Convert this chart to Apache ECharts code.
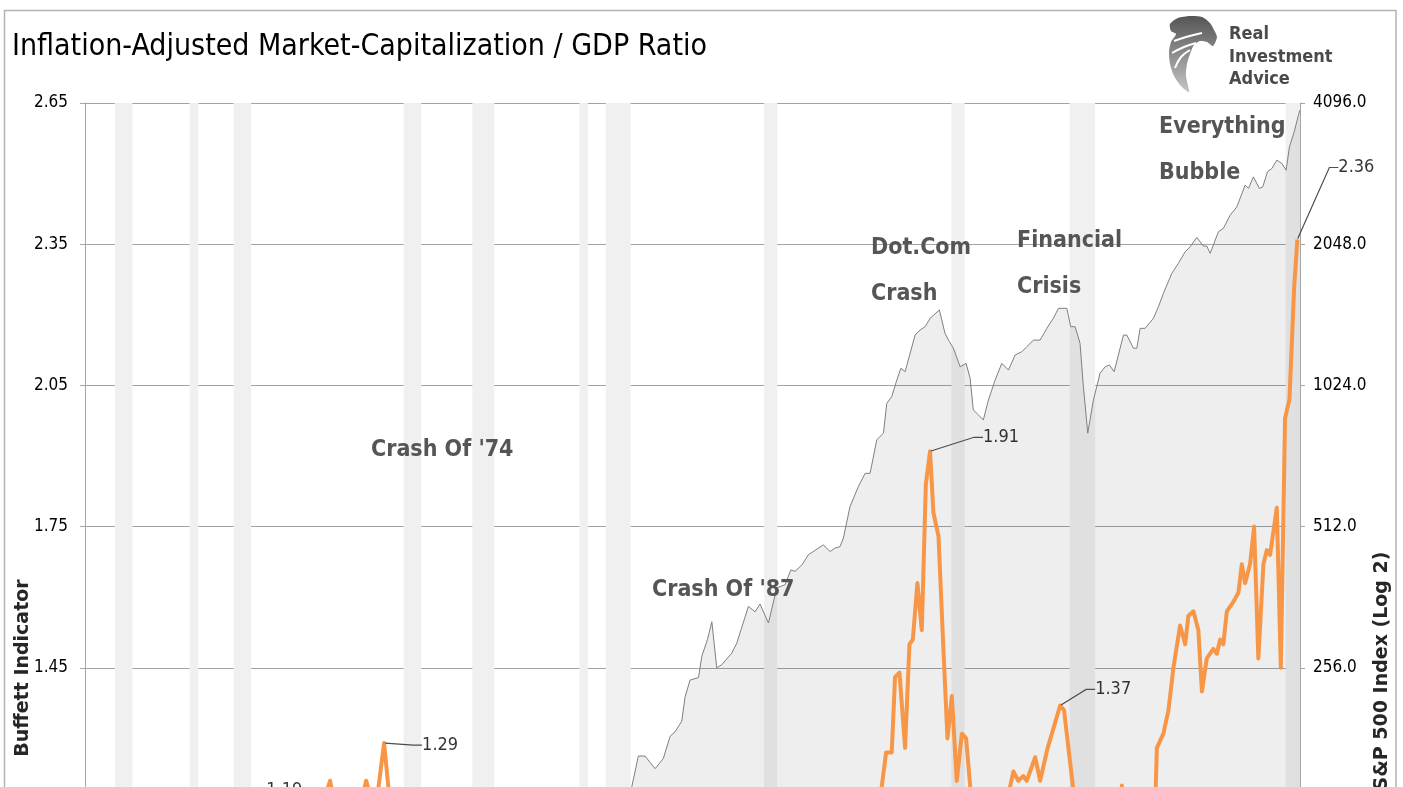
<!DOCTYPE html>
<html>
<head>
<meta charset="utf-8">
<title>Inflation-Adjusted Market-Capitalization / GDP Ratio</title>
<script src="https://cdn.jsdelivr.net/npm/echarts@6.0.0/dist/echarts.min.js"></script>
<style>
  html, body { margin: 0; padding: 0; background: #fff; overflow: hidden; height: 787px; }
  /* the original picture is cut off at the bottom, so the chart runs past the window */
  #frame { width: 1403px; height: 787px; overflow: hidden; }
  #chart { width: 1403px; height: 860px; }
</style>
</head>
<body>
<div id="frame"><div id="chart"></div></div>
<script>
// S&P 500 index (right axis, log 2)
var spYears = [1980.0, 1981.0, 1982.0, 1982.5, 1982.90, 1983.27, 1983.65, 1984.22, 1984.69, 1985.08,
  1985.36, 1985.74, 1985.93, 1986.21, 1986.69, 1986.88, 1987.20, 1987.45, 1987.73, 1988.02,
  1988.58, 1988.87, 1989.53, 1989.91, 1990.19, 1990.67, 1991.14, 1991.62, 1991.94, 1992.18,
  1992.57, 1992.94, 1993.79, 1994.18, 1994.46, 1994.74, 1994.93, 1995.31, 1995.78, 1996.17,
  1996.45, 1996.83, 1997.21, 1997.40, 1997.68, 1997.97, 1998.20, 1998.44, 1999.01, 1999.29,
  1999.58, 1999.86, 2000.39, 2000.71, 2000.96, 2001.19, 2001.57, 2001.91, 2002.14, 2002.32,
  2002.61, 2002.89, 2003.18, 2003.56, 2003.94, 2004.32, 2004.70, 2005.08, 2005.36, 2005.74,
  2006.12, 2006.50, 2006.87, 2007.16, 2007.64, 2007.86, 2008.11, 2008.39, 2008.58, 2008.83,
  2009.15, 2009.53, 2009.82, 2010.06, 2010.33, 2010.86, 2011.05, 2011.43, 2011.62, 2011.81,
  2012.09, 2012.56, 2012.85, 2013.13, 2013.61, 2013.98, 2014.37, 2014.65, 2015.03, 2015.41,
  2015.60, 2015.79, 2016.26, 2016.54, 2016.93, 2017.31, 2017.78, 2017.97, 2018.25, 2018.59,
  2018.78, 2019.05, 2019.30, 2019.58, 2019.87, 2020.11, 2020.30, 2020.57, 2020.81, 2020.90];
var spValues = [110, 130, 115, 108, 143, 166, 166, 156, 164, 183,
  187, 197, 222, 241, 244, 271, 294, 321, 256, 260,
  275, 289, 346, 337, 350, 319, 379, 385, 414, 411,
  424, 446, 468, 453, 461, 464, 484, 565, 623, 665,
  665, 784, 810, 938, 969, 1051, 1114, 1095, 1311, 1344,
  1366, 1423, 1483, 1322, 1269, 1229, 1122, 1141, 1060, 908,
  886, 864, 953, 1051, 1141, 1104, 1189, 1208, 1238, 1279,
  1279, 1355, 1423, 1495, 1495, 1366, 1366, 1259, 1018, 810,
  953, 1087, 1122, 1132, 1095, 1311, 1311, 1229, 1229, 1355,
  1355, 1423, 1507, 1609, 1775, 1864, 1973, 2022, 2117, 2029,
  2029, 1958, 2177, 2213, 2362, 2461, 2737, 2693, 2850, 2693,
  2713, 2921, 2970, 3094, 3044, 2945, 3302, 3554, 3858, 3955];

// Buffett indicator, inflation-adjusted market cap / GDP (left axis)
var biYears = [1951.8, 1953.5, 1955.5, 1957.5, 1958.3, 1959.3, 1959.95, 1960.6, 1961.9, 1962.5,
  1963.6, 1964.6, 1965.3, 1965.74, 1966.2, 1966.75, 1967.3, 1967.79, 1968.3, 1968.81,
  1969.2, 1969.8, 1970.4, 1971.5, 1972.9, 1973.6, 1974.7, 1976.0, 1978.0, 1980.0,
  1982.5, 1983.5, 1985.0, 1987.45, 1988.0, 1990.0, 1991.0, 1993.0, 1995.0, 1996.0,
  1996.8, 1997.12, 1997.36, 1997.68, 1997.87, 1998.12, 1998.44, 1998.69, 1998.88, 1999.14,
  1999.39, 1999.62, 1999.86, 2000.05, 2000.34, 2000.62, 2000.85, 2001.10, 2001.38, 2001.67,
  2001.91, 2002.14, 2002.4, 2002.8, 2003.3, 2003.8, 2004.2, 2004.60, 2004.88, 2005.17,
  2005.36, 2005.84, 2006.12, 2006.55, 2007.26, 2007.48, 2007.98, 2008.4, 2008.9, 2009.2,
  2009.6, 2010.0, 2010.4, 2010.77, 2011.2, 2011.6, 2012.0, 2012.4, 2012.66, 2012.76,
  2013.13, 2013.42, 2013.70, 2014.08, 2014.37, 2014.55, 2014.84, 2015.12, 2015.32, 2015.60,
  2015.97, 2016.17, 2016.36, 2016.54, 2016.74, 2017.11, 2017.40, 2017.59, 2017.78, 2018.06,
  2018.29, 2018.53, 2018.82, 2019.01, 2019.20, 2019.58, 2019.81, 2020.05, 2020.30, 2020.57,
  2020.75];
var biValues = [0.85, 0.80, 0.98, 0.95, 0.92, 1.12, 1.19, 1.02, 1.16, 0.95,
  1.08, 1.14, 1.16, 1.21, 1.12, 1.00, 1.13, 1.21, 1.14, 1.29,
  1.14, 1.02, 0.85, 0.97, 1.02, 0.88, 0.55, 0.64, 0.52, 0.50,
  0.45, 0.58, 0.56, 0.72, 0.60, 0.72, 0.76, 0.86, 0.90, 1.05,
  1.13, 1.20, 1.27, 1.27, 1.43, 1.44, 1.28, 1.50, 1.51, 1.63,
  1.53, 1.84, 1.91, 1.78, 1.73, 1.49, 1.30, 1.39, 1.21, 1.31,
  1.30, 1.20, 1.03, 0.95, 1.02, 1.12, 1.16, 1.23, 1.21, 1.22,
  1.21, 1.26, 1.21, 1.28, 1.37, 1.36, 1.20, 1.05, 0.80, 0.72,
  0.90, 1.00, 0.95, 1.20, 1.05, 0.95, 1.05, 1.10, 1.15, 1.28,
  1.31, 1.36, 1.45, 1.54, 1.50, 1.56, 1.57, 1.53, 1.40, 1.47,
  1.49, 1.48, 1.51, 1.50, 1.57, 1.59, 1.61, 1.67, 1.63, 1.67,
  1.75, 1.47, 1.67, 1.70, 1.69, 1.79, 1.45, 1.98, 2.02, 2.26,
  2.36];

// points of the orange line that carry a value label
var labelYears = [1959.95, 1968.81, 1999.86, 2007.26, 2020.75];

// recessions (grey bands)
var recStart = [1953.5, 1957.75, 1960.25, 1969.92, 1973.83, 1979.92, 1981.42, 1990.42, 2001.08, 2007.8, 2020.08];
var recEnd   = [1954.5, 1958.25, 1961.25, 1970.92, 1975.08, 1980.4, 1982.83, 1991.17, 2001.83, 2009.25, 2020.9];

// tick labels
var leftTicks = [1.15, 1.45, 1.75, 2.05, 2.35, 2.65];
var rightTicks = [128, 256, 512, 1024, 2048, 4096];

var NARROW = "'Liberation Sans Narrow', 'DejaVu Sans Condensed', sans-serif";

var spData = spYears.map(function (y, i) { return [y, spValues[i]]; });
var biData = biYears.map(function (y, i) { return [y, biValues[i]]; });
var peakData = labelYears.map(function (y) {
  var i = biYears.indexOf(y);
  return [biYears[i], biValues[i]];
});
var bands = recStart.map(function (s, i) { return [{ xAxis: s }, { xAxis: recEnd[i] }]; });

// where each value label sits, relative to its point
var labelShift = [
  { dx: 37, dy: 0 },
  { dx: 37, dy: 2 },
  { dx: 52, dy: -14 },
  { dx: 34, dy: -16 },
  { dx: 40, dy: -72 }
];

function note(x, y, text) {
  return {
    type: 'text', x: x, y: y, z: 20, silent: true,
    style: { text: text, fill: '#555555', font: 'bold 23px ' + NARROW, lineHeight: 46,
      verticalAlign: 'middle', textVerticalAlign: 'middle' }
  };
}

var chart = echarts.init(document.getElementById('chart'));

var option = {
  animation: false,
  backgroundColor: '#fff',
  title: {
    text: 'Inflation-Adjusted Market-Capitalization / GDP Ratio',
    left: 7,
    top: 27,
    textStyle: { fontFamily: NARROW, fontSize: 30, fontWeight: 'normal', color: '#000' }
  },
  grid: { left: 85, right: 103, top: 103, bottom: 51 },
  xAxis: {
    type: 'value',
    min: 1951.8,
    max: 2020.9,
    show: false
  },
  yAxis: [{
    type: 'value',
    min: leftTicks[0],
    max: leftTicks[leftTicks.length - 1],
    interval: 0.3,
    axisLine: { show: true, lineStyle: { color: '#a6a6a6', width: 1 } },
    axisTick: { show: true, length: 5, lineStyle: { color: '#a6a6a6' } },
    axisLabel: {
      margin: 17,
      color: '#000',
      fontFamily: NARROW,
      fontSize: 17,
      formatter: function (v) { return v.toFixed(2); }
    },
    splitLine: { show: true, lineStyle: { color: '#a3a3a3', width: 1.2 } }
  }, {
    type: 'log',
    logBase: 2,
    min: rightTicks[0],
    max: rightTicks[rightTicks.length - 1],
    axisLine: { show: true, lineStyle: { color: '#a6a6a6', width: 1 } },
    axisTick: { show: true, length: 5, lineStyle: { color: '#a6a6a6' } },
    axisLabel: {
      margin: 13,
      color: '#000',
      fontFamily: NARROW,
      fontSize: 17,
      formatter: function (v) { return Math.round(v).toFixed(1); }
    },
    splitLine: { show: false }
  }],
  series: [{
    name: 'S&P 500 Index',
    type: 'line',
    yAxisIndex: 1,
    data: spData,
    showSymbol: false,
    silent: true,
    z: 2,
    lineStyle: { color: '#7f7f7f', width: 1 },
    areaStyle: { color: 'rgba(0,0,0,0.095)', origin: 'start' },
    markArea: {
      silent: true,
      itemStyle: { color: '#f0f0f0' },
      data: bands
    }
  }, {
    name: 'Buffett Indicator',
    type: 'line',
    yAxisIndex: 0,
    data: biData,
    showSymbol: false,
    silent: true,
    z: 3,
    lineStyle: { color: '#f79646', width: 4, join: 'round' }
  }, {
    name: 'labels',
    type: 'scatter',
    yAxisIndex: 0,
    data: peakData,
    symbolSize: 2,
    silent: true,
    z: 4,
    itemStyle: { color: 'rgba(0,0,0,0)' },
    label: {
      show: true,
      position: 'right',
      distance: 0,
      color: '#000',
      fontFamily: NARROW,
      fontSize: 18,
      formatter: function (p) { return p.value[1].toFixed(2); }
    },
    labelLine: { show: true, length2: 9, lineStyle: { color: '#4d4d4d', width: 1.2 } },
    labelLayout: function (p) { return labelShift[p.dataIndex]; }
  }],
  graphic: {
    elements: [
      // outer frame
      { type: 'rect', silent: true, z: -1,
        shape: { x: 4.5, y: 10.5, width: 1391.5, height: 820 },
        style: { fill: 'none', stroke: '#b4b4b4', lineWidth: 1.5 } },
      // axis titles
      { type: 'text', x: 23, y: 668, rotation: Math.PI / 2, silent: true, z: 20,
        style: { text: 'Buffett Indicator', fill: '#262626', font: 'bold 19px "DejaVu Sans"',
          align: 'center', verticalAlign: 'middle', textAlign: 'center', textVerticalAlign: 'middle' } },
      { type: 'text', x: 1382, y: 671, rotation: Math.PI / 2, silent: true, z: 20,
        style: { text: 'S&P 500 Index (Log 2)', fill: '#262626', font: 'bold 19px "DejaVu Sans"',
          align: 'center', verticalAlign: 'middle', textAlign: 'center', textVerticalAlign: 'middle' } },
      // annotations
      note(1159, 150, 'Everything\nBubble'),
      note(871, 271, 'Dot.Com\nCrash'),
      note(1017, 264, 'Financial\nCrisis'),
      note(371, 450, "Crash Of '74"),
      note(652, 590, "Crash Of '87"),
      // logo
      { type: 'polygon', silent: true,
        shape: { smooth: 0.25, points: [[1170, 24], [1178, 18], [1190, 16], [1202, 17], [1210, 23], [1214, 30],
          [1217, 37], [1213, 46], [1207, 42], [1200, 41], [1194, 45], [1190, 54], [1187, 64], [1186, 76],
          [1189, 92], [1181, 86], [1174, 76], [1170, 64], [1169, 52], [1171, 42], [1176, 34], [1171, 31]] },
        style: { fill: { type: 'linear', x: 0, y: 0, x2: 0, y2: 1,
          colorStops: [{ offset: 0, color: '#555555' }, { offset: 1, color: '#c4c4c4' }] } } },
      { type: 'polyline', silent: true,
        shape: { smooth: 0.4, points: [[1174, 41], [1186, 37], [1202, 33]] },
        style: { fill: null, stroke: '#ffffff', lineWidth: 2 } },
      { type: 'polyline', silent: true,
        shape: { smooth: 0.4, points: [[1172, 53], [1184, 47], [1196, 43]] },
        style: { fill: null, stroke: '#ffffff', lineWidth: 2 } },
      { type: 'polyline', silent: true,
        shape: { smooth: 0.4, points: [[1175, 68], [1181, 57], [1190, 50]] },
        style: { fill: null, stroke: '#ffffff', lineWidth: 2 } },
      { type: 'text', x: 1229, y: 34, silent: true,
        style: { text: 'Real', fill: '#4a4a4a', font: 'bold 18px ' + NARROW, verticalAlign: 'middle', textVerticalAlign: 'middle' } },
      { type: 'text', x: 1229, y: 57, silent: true,
        style: { text: 'Investment', fill: '#4a4a4a', font: 'bold 18px ' + NARROW, verticalAlign: 'middle', textVerticalAlign: 'middle' } },
      { type: 'text', x: 1229, y: 79, silent: true,
        style: { text: 'Advice', fill: '#4a4a4a', font: 'bold 18px ' + NARROW, verticalAlign: 'middle', textVerticalAlign: 'middle' } }
    ]
  }
};

chart.setOption(option);
</script>
</body>
</html>
